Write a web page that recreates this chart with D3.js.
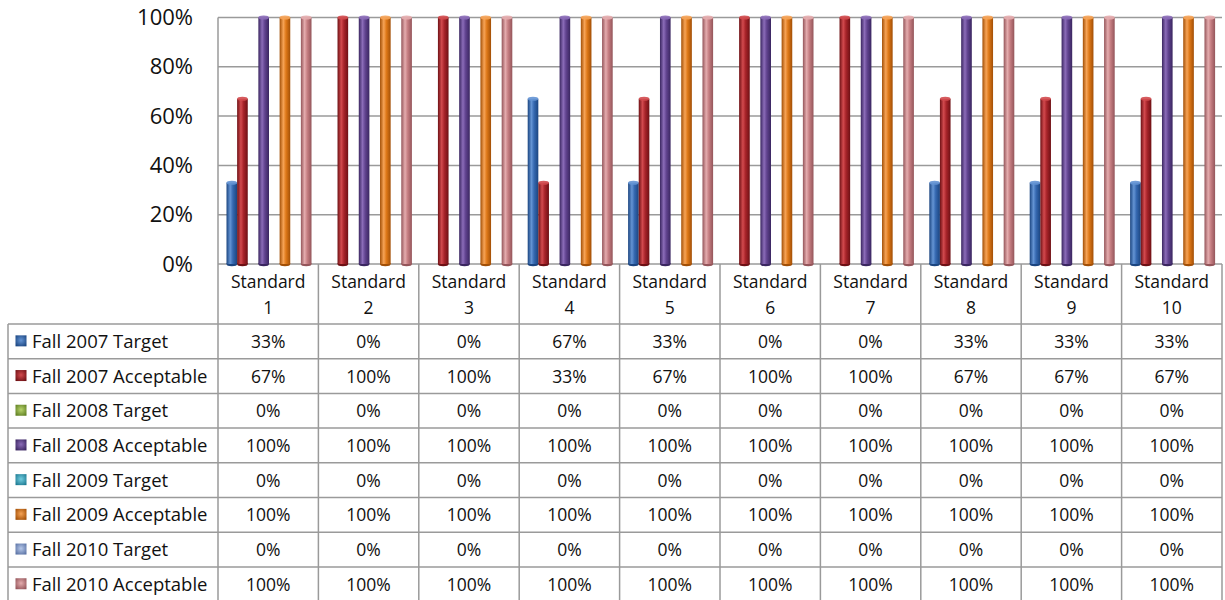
<!DOCTYPE html>
<html>
<head>
<meta charset="utf-8">
<script src="https://cdn.jsdelivr.net/npm/d3@7/dist/d3.min.js"></script>
<style>
  html, body { margin: 0; padding: 0; background: #fff; }
  svg { display: block; font-family: "Open Sans", "Noto Sans", sans-serif; }
</style>
</head>
<body>
<svg id="chart" width="1225" height="600"></svg>
<script>
// Categories along the x axis
const categories = ["Standard 1", "Standard 2", "Standard 3", "Standard 4", "Standard 5",
                    "Standard 6", "Standard 7", "Standard 8", "Standard 9", "Standard 10"];

// Series names (also the data-table row labels)
const seriesNames = ["Fall 2007 Target", "Fall 2007 Acceptable", "Fall 2008 Target", "Fall 2008 Acceptable",
                     "Fall 2009 Target", "Fall 2009 Acceptable", "Fall 2010 Target", "Fall 2010 Acceptable"];

// Series values in percent, one entry per standard
const fall2007Target     = [33, 0, 0, 67, 33, 0, 0, 33, 33, 33];
const fall2007Acceptable = [67, 100, 100, 33, 67, 100, 100, 67, 67, 67];
const fall2008Target     = [0, 0, 0, 0, 0, 0, 0, 0, 0, 0];
const fall2008Acceptable = [100, 100, 100, 100, 100, 100, 100, 100, 100, 100];
const fall2009Target     = [0, 0, 0, 0, 0, 0, 0, 0, 0, 0];
const fall2009Acceptable = [100, 100, 100, 100, 100, 100, 100, 100, 100, 100];
const fall2010Target     = [0, 0, 0, 0, 0, 0, 0, 0, 0, 0];
const fall2010Acceptable = [100, 100, 100, 100, 100, 100, 100, 100, 100, 100];

// Y axis tick labels
const yTicks = [0, 20, 40, 60, 80, 100];
const yTickLabels = ["0%", "20%", "40%", "60%", "80%", "100%"];

// Series colours: [dark edge, base, highlight]
const seriesColors = [
  ["#1b4580", "#3568b0", "#6494d4"],
  ["#6e1014", "#a8242a", "#d24a4e"],
  ["#5f7f22", "#8fb040", "#b8d46c"],
  ["#3a2660", "#61438f", "#8b6cb8"],
  ["#1d7a92", "#36a6c2", "#72cde0"],
  ["#a24f06", "#de7818", "#f6a356"],
  ["#5a72a4", "#8aa3d2", "#b6c8ea"],
  ["#94555a", "#c67e82", "#e4acae"]
];

const seriesValues = [fall2007Target, fall2007Acceptable, fall2008Target, fall2008Acceptable,
                      fall2009Target, fall2009Acceptable, fall2010Target, fall2010Acceptable];

const svg = d3.select("#chart");

// Plot and table geometry
const plotLeft = 218, plotRight = 1222, plotTop = 17.5, plotBottom = 264;
const tableLeft = 8, headerBottom = 324, rowH = 34.7;
const gridColor = "#9a9a9a";

const x = d3.scaleBand().domain(categories).range([plotLeft, plotRight]).padding(0);
const xInner = d3.scaleBand().domain(d3.range(seriesNames.length)).range([8.5, 93.5]).padding(0);
const y = d3.scaleLinear().domain([0, 100]).range([plotBottom, plotTop]);

// Gradients for cylinder shading and legend keys
const defs = svg.append("defs");
seriesColors.forEach((c, i) => {
  const g = defs.append("linearGradient").attr("id", "cyl" + i)
    .attr("x1", "0").attr("x2", "1").attr("y1", "0").attr("y2", "0");
  g.append("stop").attr("offset", "0%").attr("stop-color", c[0]);
  g.append("stop").attr("offset", "35%").attr("stop-color", c[2]);
  g.append("stop").attr("offset", "60%").attr("stop-color", c[1]);
  g.append("stop").attr("offset", "100%").attr("stop-color", c[0]);
  const k = defs.append("radialGradient").attr("id", "key" + i)
    .attr("cx", "50%").attr("cy", "45%").attr("r", "65%");
  k.append("stop").attr("offset", "0%").attr("stop-color", c[2]);
  k.append("stop").attr("offset", "100%").attr("stop-color", c[0]);
});

// Horizontal gridlines
svg.append("g").selectAll("line").data(yTicks).join("line")
  .attr("x1", plotLeft).attr("x2", plotRight)
  .attr("y1", d => y(d)).attr("y2", d => y(d))
  .attr("stroke", gridColor).attr("stroke-width", 1.5);

// Plot left border
svg.append("line").attr("x1", plotLeft).attr("x2", plotLeft)
  .attr("y1", plotTop).attr("y2", plotBottom)
  .attr("stroke", gridColor).attr("stroke-width", 1.5);

// Y axis labels
svg.append("g").selectAll("text").data(yTicks).join("text")
  .attr("x", 193).attr("y", d => y(d) + 7.5)
  .attr("text-anchor", "end").attr("font-size", 22).attr("fill", "#111")
  .text((d, i) => yTickLabels[i]);

// Cylinder bars
const barData = [];
categories.forEach((cat, ci) => {
  seriesValues.forEach((vals, si) => {
    barData.push({ cat, si, v: vals[ci] });
  });
});
const bars = svg.append("g").selectAll("g").data(barData.filter(d => d.v > 0)).join("g")
  .attr("transform", d => `translate(${x(d.cat) + xInner(d.si)},0)`);
const bw = xInner.bandwidth();
bars.append("ellipse")
  .attr("cx", bw / 2).attr("cy", plotBottom)
  .attr("rx", bw / 2).attr("ry", 2.2)
  .attr("fill", d => seriesColors[d.si][0]);
bars.append("rect")
  .attr("x", 0).attr("width", bw)
  .attr("y", d => y(d.v)).attr("height", d => plotBottom - y(d.v))
  .attr("fill", d => `url(#cyl${d.si})`);
bars.append("ellipse")
  .attr("cx", bw / 2).attr("cy", d => y(d.v))
  .attr("rx", bw / 2).attr("ry", 2)
  .attr("fill", d => seriesColors[d.si][2]).attr("opacity", 0.9);

// Data table lines
const tableBottom = headerBottom + rowH * seriesNames.length;
const lines = svg.append("g").attr("stroke", gridColor).attr("stroke-width", 1.5);
// vertical column lines through header and body
const colEdges = categories.map(c => x(c)).concat([plotRight]);
lines.selectAll("line.v").data(colEdges).join("line").attr("class", "v")
  .attr("x1", d => d).attr("x2", d => d)
  .attr("y1", plotBottom).attr("y2", tableBottom);
// left border of legend column
lines.append("line").attr("x1", tableLeft).attr("x2", tableLeft)
  .attr("y1", headerBottom).attr("y2", tableBottom);
// horizontal row lines
lines.selectAll("line.h").data(d3.range(seriesNames.length + 1)).join("line").attr("class", "h")
  .attr("x1", tableLeft).attr("x2", plotRight)
  .attr("y1", i => headerBottom + i * rowH).attr("y2", i => headerBottom + i * rowH);

// Header labels (two lines)
const head = svg.append("g").attr("font-size", 17.5).attr("fill", "#111").attr("text-anchor", "middle");
categories.forEach(c => {
  const parts = c.split(" ");
  const cx = x(c) + x.bandwidth() / 2;
  head.append("text").attr("x", cx).attr("y", 287.5).text(parts[0]);
  head.append("text").attr("x", cx).attr("y", 313.5).text(parts[1]);
});

// Row labels with legend keys
const rows = svg.append("g").selectAll("g").data(seriesNames).join("g")
  .attr("transform", (d, i) => `translate(0,${headerBottom + i * rowH + rowH / 2})`);
rows.append("rect").attr("x", 15.5).attr("y", -6).attr("width", 11).attr("height", 11)
  .attr("fill", (d, i) => `url(#key${i})`);
rows.append("text").attr("x", 32).attr("y", 6.5)
  .attr("font-size", 18.5).attr("fill", "#111").text(d => d);

// Cell values
rows.each(function (name, si) {
  d3.select(this).selectAll("text.val").data(seriesValues[si]).join("text").attr("class", "val")
    .attr("x", (v, ci) => x(categories[ci]) + x.bandwidth() / 2).attr("y", 6.5)
    .attr("text-anchor", "middle").attr("font-size", 17.5).attr("fill", "#111")
    .text(v => v + "%");
});
</script>
</body>
</html>
